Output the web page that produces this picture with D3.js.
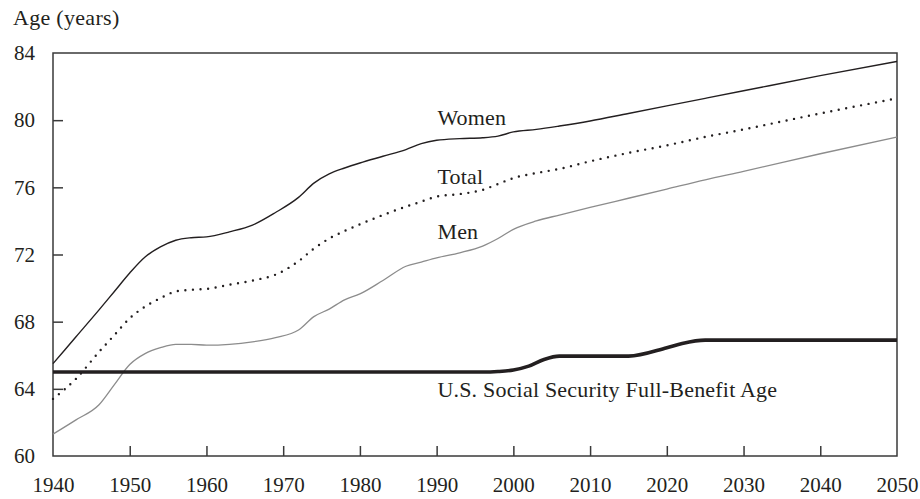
<!DOCTYPE html>
<html>
<head>
<meta charset="utf-8">
<script src="https://cdn.jsdelivr.net/npm/d3@7"></script>
</head>
<body style="margin:0;padding:0;background:#fff">
<svg id="chart" width="920" height="499"></svg>
<script>
// ---- data ----
const years = [1940, 1943, 1946, 1948, 1950, 1952, 1954, 1956, 1958, 1960, 1963, 1966, 1969, 1972, 1974, 1976, 1978, 1980, 1983, 1986, 1988, 1990, 1993, 1996, 1998, 2000, 2003, 2006, 2010, 2015, 2020, 2025, 2030, 2040, 2050];
const women = [65.5, 67.1, 68.7, 69.8, 70.9, 71.85, 72.45, 72.85, 73.0, 73.05, 73.35, 73.75, 74.5, 75.4, 76.25, 76.8, 77.15, 77.45, 77.85, 78.25, 78.6, 78.8, 78.9, 78.95, 79.05, 79.3, 79.45, 79.65, 79.95, 80.4, 80.85, 81.3, 81.75, 82.65, 83.5];
const total = [63.4, 64.6, 66.2, 67.2, 68.2, 68.9, 69.4, 69.8, 69.9, 69.95, 70.2, 70.45, 70.8, 71.6, 72.35, 72.95, 73.4, 73.8, 74.35, 74.85, 75.15, 75.45, 75.6, 75.85, 76.2, 76.55, 76.85, 77.1, 77.55, 78.05, 78.5, 79.0, 79.45, 80.4, 81.3];
const men = [61.3, 62.15, 63.05, 64.25, 65.45, 66.1, 66.45, 66.65, 66.65, 66.6, 66.65, 66.8, 67.05, 67.5, 68.3, 68.75, 69.3, 69.65, 70.45, 71.3, 71.55, 71.8, 72.1, 72.5, 72.95, 73.5, 74.0, 74.35, 74.8, 75.35, 75.9, 76.45, 76.95, 78.0, 79.0];
const ssYears = [1940, 1996, 1998, 2000, 2002, 2004, 2006, 2015, 2020, 2022, 2025, 2050];
const ssAge = [65, 65, 65.03, 65.12, 65.35, 65.75, 65.95, 65.95, 66.45, 66.7, 66.9, 66.9];
const xTicks = [1940, 1950, 1960, 1970, 1980, 1990, 2000, 2010, 2020, 2030, 2040, 2050];
const yTicks = [60, 64, 68, 72, 76, 80, 84];
const labels = [
  {text: "Women", year: 1990.1, value: 79.7},
  {text: "Total", year: 1990.1, value: 76.2},
  {text: "Men", year: 1990.1, value: 72.9},
  {text: "U.S. Social Security Full-Benefit Age", year: 1990.1, value: 63.5}
];

// ---- chart ----
const FONT = "Liberation Serif";
const INK = "#231f20";
const svg = d3.select("#chart");
const x = d3.scaleLinear().domain([1940, 2050]).range([53, 897]);
const y = d3.scaleLinear().domain([60, 84]).range([456, 53]);

const line = (xs, vs) => d3.line().curve(d3.curveMonotoneX)
  .x((d, i) => x(xs[i])).y((d, i) => y(vs[i]))(vs);

// frame
svg.append("rect")
  .attr("x", x(1940)).attr("y", y(84))
  .attr("width", x(2050) - x(1940)).attr("height", y(60) - y(84))
  .attr("fill", "none").attr("stroke", "#3a3a3a").attr("stroke-width", 1.5);

// axes (inward ticks)
const xAxis = svg.append("g").attr("transform", `translate(0,${y(60)})`)
  .call(d3.axisBottom(x).tickValues(xTicks).tickFormat(d3.format("d")).tickSizeInner(-10).tickSizeOuter(0).tickPadding(21));
const yAxis = svg.append("g").attr("transform", `translate(${x(1940)},0)`)
  .call(d3.axisLeft(y).tickValues(yTicks).tickSizeInner(-10).tickSizeOuter(0).tickPadding(18));
[xAxis, yAxis].forEach(g => {
  g.attr("font-family", FONT).attr("font-size", 21);
  g.select(".domain").remove();
  g.selectAll(".tick line").attr("stroke", "#3a3a3a").attr("stroke-width", 1.5);
  g.selectAll(".tick text").attr("font-family", FONT).style("font-family", FONT)
    .attr("font-size", 21).attr("fill", INK);
});
xAxis.selectAll(".tick").filter(d => d === 1940 || d === 2050).select("line").remove();
yAxis.selectAll(".tick").filter(d => d === 60 || d === 84).select("line").remove();

svg.append("text").attr("x", 13).attr("y", 25)
  .attr("font-family", FONT).style("font-family", FONT)
  .attr("font-size", 22).attr("letter-spacing", 0.3).attr("fill", INK).text("Age (years)");

// series
svg.append("path").attr("d", line(years, men))
  .attr("fill", "none").attr("stroke", "#8c8c8c").attr("stroke-width", 1.3);
svg.append("path").attr("d", line(years, women))
  .attr("fill", "none").attr("stroke", INK).attr("stroke-width", 1.4);
svg.append("path").attr("d", line(years, total))
  .attr("fill", "none").attr("stroke", INK).attr("stroke-width", 2.4)
  .attr("stroke-linecap", "round").attr("stroke-dasharray", "0 7.6");
svg.append("path").attr("d", line(ssYears, ssAge))
  .attr("fill", "none").attr("stroke", INK).attr("stroke-width", 3.6);

// labels
svg.selectAll("text.lbl").data(labels).enter().append("text")
  .attr("class", "lbl")
  .attr("x", d => x(d.year)).attr("y", d => y(d.value))
  .attr("font-family", FONT).style("font-family", FONT)
  .attr("font-size", 22).attr("letter-spacing", 0.2)
  .attr("fill", INK)
  .text(d => d.text);
</script>
</body>
</html>
